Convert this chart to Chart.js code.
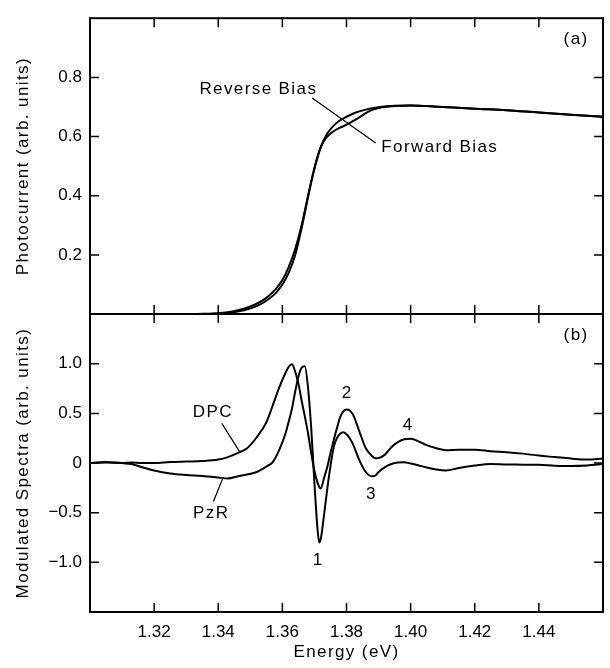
<!DOCTYPE html>
<html>
<head>
<meta charset="utf-8">
<script src="https://cdn.jsdelivr.net/npm/chart.js@4.4.1/dist/chart.umd.min.js"></script>
<style>
  html, body { margin: 0; padding: 0; background: #fff; }
  #grafico { display: block; }
</style>
</head>
<body>
<canvas id="grafico" width="610" height="668"></canvas>
<script>
// Painel (a) - fotocorrente
const energiaA = [1.300, 1.310, 1.320, 1.330, 1.335, 1.340, 1.344, 1.348, 1.352, 1.355, 1.358, 1.360,
  1.362, 1.364, 1.366, 1.368, 1.370, 1.372, 1.374, 1.376, 1.378, 1.380, 1.382, 1.384, 1.386, 1.388,
  1.391, 1.395, 1.400, 1.405, 1.410, 1.420, 1.430, 1.440, 1.450, 1.460];
const reverseBias = [0, 0, 0, 0, 0.001, 0.003, 0.008, 0.018, 0.035, 0.055, 0.085, 0.115,
  0.16, 0.22, 0.30, 0.40, 0.49, 0.565, 0.61, 0.637, 0.655, 0.667, 0.677, 0.685, 0.691, 0.696,
  0.701, 0.704, 0.705, 0.703, 0.700, 0.694, 0.689, 0.681, 0.674, 0.667];
const forwardBias = [0, 0, 0, 0, 0, 0.002, 0.005, 0.013, 0.027, 0.045, 0.072, 0.10,
  0.14, 0.20, 0.29, 0.395, 0.495, 0.565, 0.60, 0.618, 0.630, 0.640, 0.652, 0.665, 0.679, 0.690,
  0.699, 0.703, 0.705, 0.703, 0.700, 0.694, 0.689, 0.681, 0.674, 0.667];

// Painel (b) - espectros modulados
const energiaB = [1.300, 1.305, 1.310, 1.313, 1.316, 1.320, 1.325, 1.330, 1.335, 1.340, 1.343, 1.346,
  1.349, 1.352, 1.355, 1.357, 1.359, 1.361, 1.362, 1.363, 1.364, 1.365, 1.366, 1.367, 1.368, 1.369,
  1.370, 1.371, 1.3715, 1.372, 1.373, 1.374, 1.375, 1.376, 1.377, 1.378, 1.379, 1.380, 1.381, 1.382,
  1.384, 1.386, 1.388, 1.389, 1.390, 1.392, 1.394, 1.396, 1.398, 1.400, 1.402, 1.405, 1.408, 1.411,
  1.415, 1.420, 1.425, 1.430, 1.435, 1.440, 1.445, 1.450, 1.455, 1.460];
const dpc = [0.00, 0.01, 0.00, 0.005, 0.00, 0.00, 0.01, 0.015, 0.02, 0.035, 0.06, 0.10,
  0.15, 0.26, 0.41, 0.58, 0.76, 0.91, 0.97, 0.995, 0.92, 0.80, 0.63, 0.47, 0.30, 0.10,
  -0.08, -0.20, -0.24, -0.255, -0.15, -0.04, 0.10, 0.23, 0.35, 0.46, 0.52, 0.54, 0.53, 0.49,
  0.32, 0.15, 0.07, 0.048, 0.05, 0.085, 0.16, 0.21, 0.24, 0.245, 0.225, 0.18, 0.15, 0.13,
  0.135, 0.135, 0.12, 0.11, 0.095, 0.075, 0.06, 0.045, 0.035, 0.045];
const pzr = [0.00, 0.005, 0.00, -0.01, -0.04, -0.075, -0.105, -0.12, -0.13, -0.145, -0.155, -0.135,
  -0.115, -0.09, -0.035, 0.01, 0.13, 0.30, 0.42, 0.55, 0.72, 0.87, 0.96, 0.975, 0.76, 0.35,
  -0.20, -0.68, -0.80, -0.76, -0.52, -0.26, -0.03, 0.16, 0.25, 0.295, 0.31, 0.29, 0.25, 0.19,
  0.03, -0.09, -0.134, -0.125, -0.09, -0.04, -0.01, 0.005, 0.007, -0.005, -0.02, -0.045, -0.065, -0.075,
  -0.05, -0.025, -0.01, -0.015, -0.016, -0.018, -0.026, -0.03, -0.025, -0.01];

// Ticks
const ticksX = [1.32, 1.34, 1.36, 1.38, 1.40, 1.42, 1.44];
const rotulosX = ['1.32', '1.34', '1.36', '1.38', '1.40', '1.42', '1.44'];
const ticksA = [0.2, 0.4, 0.6, 0.8];
const rotulosA = ['0.2', '0.4', '0.6', '0.8'];
const ticksB = [-1.0, -0.5, 0, 0.5, 1.0];
const rotulosB = ['\u22121.0', '\u22120.5', '0', '0.5', '1.0'];

// Anotações (coordenadas nos eixos dos dados)
const textos = [
  {t: 'Reverse Bias', x: 1.3525, y: 0.761, eixo: 'yA'},
  {t: 'Forward Bias', x: 1.4091, y: 0.565, eixo: 'yA'},
  {t: '(a)', x: 1.4516, y: 0.927, eixo: 'yA'},
  {t: '(b)', x: 1.4516, y: 1.289, eixo: 'yB'},
  {t: 'DPC', x: 1.3383, y: 0.51, eixo: 'yB'},
  {t: 'PzR', x: 1.3378, y: -0.509, eixo: 'yB'},
  {t: '1', x: 1.3712, y: -0.98, eixo: 'yB'},
  {t: '2', x: 1.3802, y: 0.70, eixo: 'yB'},
  {t: '3', x: 1.3878, y: -0.31, eixo: 'yB'},
  {t: '4', x: 1.3992, y: 0.38, eixo: 'yB'}
];
const setas = [
  {x1: 1.3693, y1: 0.730, x2: 1.3891, y2: 0.578, eixo: 'yA'},
  {x1: 1.3411, y1: 0.40, x2: 1.3467, y2: 0.112, eixo: 'yB'},
  {x1: 1.3385, y1: -0.388, x2: 1.3413, y2: -0.164, eixo: 'yB'}
];

const fonte = "'Liberation Sans', Arial, Helvetica, sans-serif";
Chart.defaults.font.family = fonte;
Chart.defaults.font.size = 17;
Chart.defaults.color = '#000';

function pontos(xs, ys) {
  return xs.map((x, i) => ({x: x, y: ys[i]}));
}

const moldura = {
  id: 'moldura',
  afterDraw(chart) {
    const ctx = chart.ctx;
    const a = chart.chartArea;
    const sx = chart.scales.x, yA = chart.scales.yA, yB = chart.scales.yB;
    const t = 9;
    ctx.save();
    ctx.strokeStyle = '#000';
    ctx.lineWidth = 2;
    ctx.strokeRect(a.left, a.top, a.right - a.left, a.bottom - a.top);
    ctx.beginPath();
    ctx.moveTo(a.left, yA.bottom);
    ctx.lineTo(a.right, yA.bottom);
    ctx.stroke();

    // marcas para dentro
    ctx.lineWidth = 1.5;
    ctx.beginPath();
    sx.ticks.forEach(tk => {
      const px = sx.getPixelForValue(tk.value);
      ctx.moveTo(px, a.top); ctx.lineTo(px, a.top + t);
      ctx.moveTo(px, yA.bottom - t); ctx.lineTo(px, yA.bottom + t);
      ctx.moveTo(px, a.bottom); ctx.lineTo(px, a.bottom - t);
    });
    [yA, yB].forEach(s => s.ticks.forEach(tk => {
      const py = s.getPixelForValue(tk.value);
      ctx.moveTo(a.left, py); ctx.lineTo(a.left + t, py);
      ctx.moveTo(a.right, py); ctx.lineTo(a.right - t, py);
    }));
    ctx.stroke();

    // linhas de chamada
    ctx.lineWidth = 1.2;
    ctx.beginPath();
    setas.forEach(s => {
      const sy = chart.scales[s.eixo];
      ctx.moveTo(sx.getPixelForValue(s.x1), sy.getPixelForValue(s.y1));
      ctx.lineTo(sx.getPixelForValue(s.x2), sy.getPixelForValue(s.y2));
    });
    ctx.stroke();

    // textos
    ctx.fillStyle = '#000';
    ctx.font = '17px ' + fonte;
    if ('letterSpacing' in ctx) ctx.letterSpacing = '1.4px';
    ctx.textAlign = 'center';
    ctx.textBaseline = 'middle';
    textos.forEach(o => {
      const sy = chart.scales[o.eixo];
      ctx.fillText(o.t, sx.getPixelForValue(o.x), sy.getPixelForValue(o.y));
    });

    // títulos dos eixos
    ctx.fillText('Energy (eV)', (a.left + a.right) / 2, 652);
    [[yA, 'Photocurrent (arb. units)'], [yB, 'Modulated Spectra (arb. units)']].forEach(([s, txt]) => {
      ctx.save();
      ctx.translate(23, (s.top + s.bottom) / 2);
      ctx.rotate(-Math.PI / 2);
      ctx.fillText(txt, 0, 0);
      ctx.restore();
    });
    ctx.restore();
  }
};

function eixoY(min, max, valores, rotulos, peso) {
  return {
    type: 'linear',
    position: 'left',
    stack: 'paineis',
    stackWeight: peso,
    min: min,
    max: max,
    grid: {display: false, drawTicks: false},
    border: {display: false},
    afterBuildTicks: s => { s.ticks = valores.map(v => ({value: v})); },
    afterFit: s => { s.width = 90; },
    ticks: {
      padding: 8,
      callback: (v, i) => rotulos[i]
    }
  };
}

const ctx = document.getElementById('grafico').getContext('2d');
new Chart(ctx, {
  type: 'line',
  data: {
    datasets: [
      {label: 'Reverse Bias', data: pontos(energiaA, reverseBias), yAxisID: 'yA'},
      {label: 'Forward Bias', data: pontos(energiaA, forwardBias), yAxisID: 'yA'},
      {label: 'DPC', data: pontos(energiaB, dpc), yAxisID: 'yB'},
      {label: 'PzR', data: pontos(energiaB, pzr), yAxisID: 'yB'}
    ]
  },
  options: {
    responsive: false,
    animation: false,
    parsing: false,
    layout: {padding: {top: 8, right: 7, left: 0, bottom: 0}},
    elements: {
      line: {borderColor: '#000', borderWidth: 2, cubicInterpolationMode: 'monotone', fill: false},
      point: {radius: 0}
    },
    plugins: {legend: {display: false}, tooltip: {enabled: false}},
    scales: {
      x: {
        type: 'linear',
        min: 1.30,
        max: 1.46,
        grid: {display: false, drawTicks: false},
        border: {display: false},
        afterBuildTicks: s => { s.ticks = ticksX.map(v => ({value: v})); },
        afterFit: s => { s.height = 56; },
        ticks: {
          padding: 10,
          maxRotation: 0,
          callback: (v, i) => rotulosX[i]
        }
      },
      yB: eixoY(-1.5, 1.5, ticksB, rotulosB, 303),
      yA: eixoY(0, 1.0, ticksA, rotulosA, 301)
    }
  },
  plugins: [moldura]
});
</script>
</body>
</html>
